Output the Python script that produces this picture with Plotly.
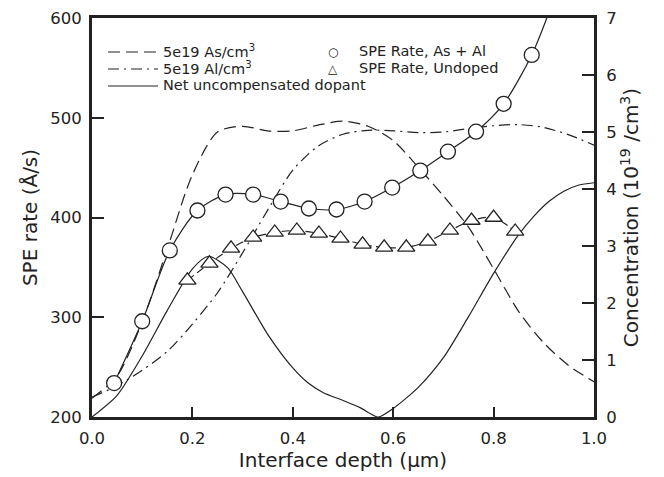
import plotly.graph_objects as go

# ---- data ----
conc_x = [0.0, 0.05, 0.1, 0.15, 0.2, 0.25, 0.3, 0.35, 0.4, 0.45, 0.5,
          0.55, 0.6, 0.65, 0.7, 0.75, 0.8, 0.85, 0.9, 0.95, 1.0]
as_conc = [0.33, 0.72, 1.67, 2.95, 4.25, 5.0, 5.1, 5.02, 5.02, 5.12, 5.19,
           5.1, 4.85, 4.38, 3.88, 3.33, 2.6, 1.85, 1.3, 0.9, 0.62]
al_conc = [0.35, 0.55, 0.82, 1.15, 1.63, 2.18, 2.88, 3.63, 4.33, 4.75, 4.96,
           5.03, 5.02, 4.99, 5.0, 5.06, 5.11, 5.13, 5.08, 4.95, 4.77]

net_x = [0.0, 0.05, 0.1, 0.15, 0.2, 0.232, 0.27, 0.3, 0.35, 0.4, 0.43, 0.46,
         0.5, 0.535, 0.57, 0.6, 0.65, 0.7, 0.75, 0.8, 0.85, 0.88, 0.91, 0.94,
         0.97, 1.0]
net_conc = [0.0, 0.38, 1.07, 1.87, 2.6, 2.82, 2.62, 2.2, 1.45, 0.86, 0.6, 0.43,
            0.29, 0.16, 0.0, 0.15, 0.52, 1.04, 1.76, 2.52, 3.2, 3.52, 3.78, 3.96,
            4.07, 4.11]

doped_x = [0.044, 0.100, 0.155, 0.210, 0.266, 0.321, 0.376, 0.432, 0.487,
           0.543, 0.598, 0.654, 0.709, 0.765, 0.820, 0.876]
doped_rate = [234, 296, 367, 407, 423, 423, 416, 409, 408,
              416, 430, 447, 466, 486, 514, 563]
# smooth fit through doped points, continuing past the last point
doped_fit_x = doped_x + [0.906, 0.93]
doped_fit_y = doped_rate + [600, 635]

undoped_x = [0.190, 0.234, 0.277, 0.321, 0.364, 0.408, 0.452, 0.495,
             0.539, 0.582, 0.626, 0.669, 0.713, 0.756, 0.800, 0.843]
undoped_rate = [337, 354, 369, 380, 385, 387, 384, 379,
                373, 370, 370, 376, 387, 397, 400, 386]

legend_lines = ["5e19 As/cm<sup>3</sup>", "5e19 Al/cm<sup>3</sup>", "Net uncompensated dopant"]
legend_marks = ["SPE Rate, As + Al", "SPE Rate, Undoped"]

FONT = "DejaVu Sans"
INK = "#222222"
AS_DASH = "12px,6px"
AL_DASH = "11px,5px,2px,5px"

W, H = 656, 469
ML, MR, MT, MB = 84, 70, 10, 60
PW, PH = W - ML - MR, H - MT - MB

fig = go.Figure()

fig.add_trace(go.Scatter(x=conc_x, y=as_conc, mode="lines", yaxis="y", showlegend=False,
                         name=legend_lines[0],
                         line=dict(color=INK, width=1.2, dash=AS_DASH, shape="spline", smoothing=0.8)))
fig.add_trace(go.Scatter(x=conc_x, y=al_conc, mode="lines", yaxis="y", showlegend=False,
                         name=legend_lines[1],
                         line=dict(color=INK, width=1.2, dash=AL_DASH, shape="spline", smoothing=0.8)))
fig.add_trace(go.Scatter(x=net_x, y=net_conc, mode="lines", yaxis="y", showlegend=False,
                         name=legend_lines[2],
                         line=dict(color=INK, width=1.2, shape="spline", smoothing=0.7)))

fig.add_trace(go.Scatter(x=doped_fit_x, y=doped_fit_y, mode="lines", yaxis="y2",
                         showlegend=False, hoverinfo="skip",
                         line=dict(color=INK, width=1.2, shape="spline", smoothing=0.8)))
fig.add_trace(go.Scatter(x=undoped_x, y=undoped_rate, mode="lines", yaxis="y2",
                         showlegend=False, hoverinfo="skip",
                         line=dict(color=INK, width=1.2, dash="8px,4px", shape="spline", smoothing=0.8)))
fig.add_trace(go.Scatter(x=doped_x, y=doped_rate, mode="markers", yaxis="y2", showlegend=False,
                         name=legend_marks[0],
                         marker=dict(symbol="circle", size=15, color="white",
                                     line=dict(color=INK, width=1.3))))
fig.add_trace(go.Scatter(x=undoped_x, y=undoped_rate, mode="markers", yaxis="y2", showlegend=False,
                         name=legend_marks[1],
                         marker=dict(symbol="triangle-up", size=15, color="white",
                                     line=dict(color=INK, width=1.3))))

# ---- legend drawn as layout annotations / swatches (paper coordinates) ----
def px(xp):
    return xp / float(PW)

def py(yp):
    return 1 - yp / float(PH)

row_y = [33, 50, 67]          # px below top of plot area
dashes = [AS_DASH, AL_DASH, "solid"]
shapes = []
annotations = []
for i, (txt, d) in enumerate(zip(legend_lines, dashes)):
    shapes.append(dict(type="line", xref="paper", yref="paper",
                       x0=px(16), x1=px(66), y0=py(row_y[i] + 1), y1=py(row_y[i] + 1),
                       line=dict(color=INK, width=1.2, dash=d)))
    annotations.append(dict(xref="paper", yref="paper", x=px(70), y=py(row_y[i]),
                            xanchor="left", yanchor="middle", showarrow=False, borderpad=0,
                            text=txt, font=dict(size=14.5, color=INK, family=FONT)))
glyphs = ["○", "△"]
for i, (txt, g) in enumerate(zip(legend_marks, glyphs)):
    annotations.append(dict(xref="paper", yref="paper", x=px(241), y=py(row_y[i] + 1),
                            xanchor="center", yanchor="middle", showarrow=False, borderpad=0,
                            text=g, font=dict(size=12, color=INK, family=FONT)))
    annotations.append(dict(xref="paper", yref="paper", x=px(266), y=py(row_y[i]),
                            xanchor="left", yanchor="middle", showarrow=False, borderpad=0,
                            text=txt, font=dict(size=14.5, color=INK, family=FONT)))

fig.update_layout(
    width=W, height=H,
    margin=dict(l=ML, r=MR, t=MT, b=MB),
    paper_bgcolor="white", plot_bgcolor="white",
    font=dict(family=FONT, color=INK, size=16.5),
    showlegend=False,
    shapes=shapes, annotations=annotations,
    xaxis=dict(range=[0, 1], dtick=0.2, tickformat=".1f", ticks="inside", ticklen=10,
               tickwidth=1.5, tickcolor=INK, showline=True, linewidth=3, linecolor=INK,
               mirror=True, showgrid=False, zeroline=False, automargin=False,
               ticklabelstandoff=4, ticklabeloverflow="allow",
               title=dict(text="Interface depth (μm)", font=dict(size=20), standoff=4)),
    yaxis=dict(range=[0, 7], dtick=1, side="right", ticks="inside", ticklen=12,
               tickwidth=1.5, tickcolor=INK, showline=True, linewidth=3, linecolor=INK,
               showgrid=False, zeroline=False, automargin=False, ticklabelstandoff=6,
               ticklabeloverflow="allow",
               title=dict(text="Concentration (10<sup>19</sup> /cm<sup>3</sup>)", font=dict(size=20), standoff=8)),
    yaxis2=dict(range=[200, 600], dtick=100, side="left", overlaying="y", ticks="inside",
                ticklen=12, tickwidth=1.5, tickcolor=INK, showline=True, linewidth=3,
                linecolor=INK, showgrid=False, zeroline=False, automargin=False,
                ticklabelstandoff=4, ticklabeloverflow="allow",
                title=dict(text="SPE rate (Å/s)", font=dict(size=20), standoff=8)),
)

fig.write_html("out.html")
